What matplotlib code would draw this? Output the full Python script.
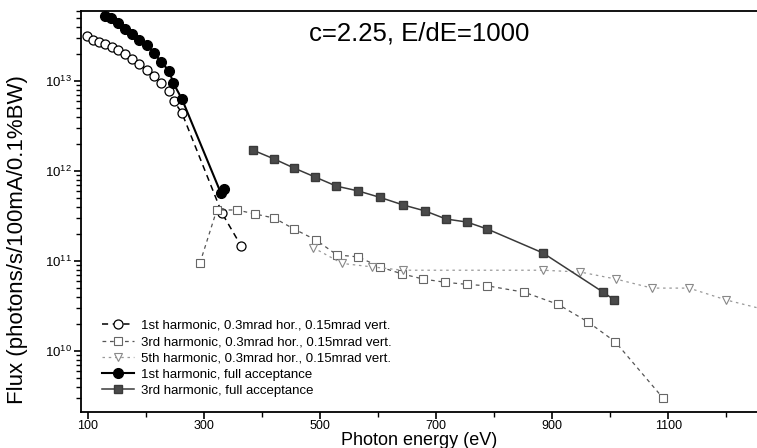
import math
import matplotlib
matplotlib.use("Agg")
import matplotlib.pyplot as plt
from matplotlib.ticker import LogLocator, FixedLocator, NullFormatter, FuncFormatter

plt.rcParams['font.family'] = ['Liberation Sans', 'DejaVu Sans']
plt.rcParams['mathtext.fontset'] = 'custom'
plt.rcParams['mathtext.rm'] = 'Liberation Sans'
plt.rcParams['mathtext.it'] = 'Liberation Sans'

# 1st harmonic, 0.3mrad hor., 0.15mrad vert.
h1_ap_E = [98, 109, 119, 129, 141, 152, 164, 176, 188, 202, 214, 226, 240, 248, 262, 331, 364]
h1_ap_F = [3.16e13, 2.85e13, 2.71e13, 2.58e13, 2.39e13, 2.21e13, 2.0e13, 1.76e13, 1.55e13,
           1.32e13, 1.14e13, 9.5e12, 7.7e12, 6.0e12, 4.4e12, 3.4e11, 1.47e11]

# 3rd harmonic, 0.3mrad hor., 0.15mrad vert.
h3_ap_E = [293, 322, 357, 388, 421, 455, 493, 529, 566, 603, 641, 678, 716, 753, 788,
           852, 910, 962, 1009, 1091]
h3_ap_F = [9.5e10, 3.69e11, 3.69e11, 3.33e11, 3.0e11, 2.27e11, 1.71e11, 1.17e11, 1.11e11,
           8.6e10, 7.2e10, 6.3e10, 5.8e10, 5.5e10, 5.3e10, 4.5e10, 3.3e10, 2.1e10, 1.26e10, 3.0e9]

# 5th harmonic, 0.3mrad hor., 0.15mrad vert.
h5_ap_E = [488, 538, 590, 643, 884, 948, 1010, 1072, 1136, 1200, 1310]
h5_ap_F = [1.41e11, 9.4e10, 8.6e10, 7.9e10, 7.9e10, 7.55e10, 6.3e10, 5.0e10, 5.0e10, 3.69e10, 2.45e10]

# 1st harmonic, full acceptance
h1_full_E = [129, 140, 152, 164, 176, 188, 202, 214, 226, 240, 247, 262, 329, 334]
h1_full_F = [5.3e13, 5.0e13, 4.4e13, 3.8e13, 3.3e13, 2.85e13, 2.5e13, 2.05e13, 1.63e13,
             1.29e13, 9.5e12, 6.3e12, 5.7e11, 6.3e11]

# 3rd harmonic, full acceptance
h3_full_E = [384, 421, 455, 491, 528, 566, 603, 643, 681, 717, 753, 788, 884, 988, 1007]
h3_full_F = [1.71e12, 1.36e12, 1.08e12, 8.6e11, 6.8e11, 6.0e11, 5.1e11, 4.2e11, 3.6e11,
             2.93e11, 2.71e11, 2.27e11, 1.23e11, 4.5e10, 3.7e10]

legend_labels = ["1st harmonic, 0.3mrad hor., 0.15mrad vert.",
                 "3rd harmonic, 0.3mrad hor., 0.15mrad vert.",
                 "5th harmonic, 0.3mrad hor., 0.15mrad vert.",
                 "1st harmonic, full acceptance",
                 "3rd harmonic, full acceptance"]
title_text = "c=2.25, E/dE=1000"
xlabel_text = "Photon energy (eV)"
ylabel_text = "Flux (photons/s/100mA/0.1%BW)"
xticks = [100, 300, 500, 700, 900, 1100]

fig = plt.figure(figsize=(7.57, 4.48), dpi=100)
ax = fig.add_axes([81/757, 36/448, 1 - 81/757, (412 - 11)/448])

ax.plot(h1_ap_E, h1_ap_F, color='black', ls=(0, (4, 3)), lw=1.1, marker='o', ms=6.5,
        mfc='white', mec='black', mew=0.9, label=legend_labels[0], zorder=3)
ax.plot(h3_ap_E, h3_ap_F, color='#555555', ls=(0, (3, 3)), lw=0.9, marker='s', ms=5.5,
        mfc='white', mec='#666666', mew=0.8, label=legend_labels[1], zorder=3)
ax.plot(h5_ap_E, h5_ap_F, color='#999999', ls=(0, (2, 3)), lw=0.9, marker='v', ms=6,
        mfc='white', mec='#888888', mew=0.8, label=legend_labels[2], zorder=3)
ax.plot(h1_full_E, h1_full_F, color='black', ls='-', lw=1.5, marker='o', ms=7,
        mfc='black', mec='black', label=legend_labels[3], zorder=4)
ax.plot(h3_full_E, h3_full_F, color='#3a3a3a', ls='-', lw=1.1, marker='s', ms=6,
        mfc='#4a4a4a', mec='#3a3a3a', label=legend_labels[4], zorder=4)

ax.set_yscale('log')
ax.set_xlim(88, 1253)
ax.set_ylim(2.1e9, 6.0e13)

ax.xaxis.set_major_locator(FixedLocator(xticks))
ax.xaxis.set_minor_locator(FixedLocator([200, 400, 600, 800, 1000, 1200]))
ax.yaxis.set_major_locator(LogLocator(base=10, numticks=10))
ax.yaxis.set_minor_locator(LogLocator(base=10, subs=range(2, 10), numticks=100))
ax.yaxis.set_minor_formatter(NullFormatter())
ax.yaxis.set_major_formatter(FuncFormatter(lambda v, p: r'$10^{%d}$' % round(math.log10(v))))

ax.tick_params(which='major', direction='out', length=5, width=1.2, labelsize=9.5, pad=1.5)
ax.tick_params(axis='x', which='major', labelsize=9, pad=1)
ax.tick_params(which='minor', direction='out', length=3.5, width=1.0)
for s in ['left', 'bottom', 'top']:
    ax.spines[s].set_linewidth(1.3)
ax.spines['right'].set_visible(False)

ax.set_xlabel(xlabel_text, fontsize=13, labelpad=0)
ax.set_ylabel(ylabel_text, fontsize=16)
ax.yaxis.set_label_coords(-0.078, 0.43)
ax.text(0.5, 0.945, title_text, transform=ax.transAxes, ha='center', va='center', fontsize=18.5)

leg = ax.legend(loc='lower left', bbox_to_anchor=(0.018, 0.015), frameon=False, fontsize=9.5,
                handlelength=2.4, handletextpad=0.5, labelspacing=0.3, borderaxespad=0.3)

fig.savefig('out.png', dpi=100)
